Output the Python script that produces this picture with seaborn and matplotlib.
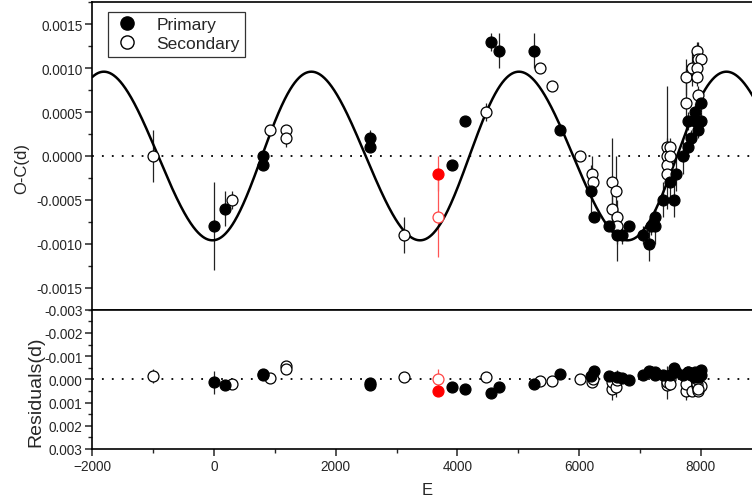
import numpy as np
import pandas as pd
import matplotlib
matplotlib.use("Agg")
import matplotlib.pyplot as plt
from matplotlib.ticker import MultipleLocator, FormatStrFormatter
from matplotlib.lines import Line2D
import seaborn as sns

# ---------------- data ----------------
prim_E = [0, 180, 800, 800, 2560, 2560, 3910, 4120, 4550, 4690, 5260, 5690,
          6195, 6245, 6490, 6630, 6700, 6820, 7055, 7140, 7180, 7250, 7250,
          7370, 7495, 7560, 7590, 7710, 7790, 7845, 7790, 7910, 7995, 7910,
          7995, 7960]
prim_OC = [-0.0008, -0.0006, 0.0, -0.0001, 0.0002, 0.0001, -0.0001, 0.0004,
           0.0013, 0.0012, 0.0012, 0.0003, -0.0004, -0.0007, -0.0008, -0.0009,
           -0.0009, -0.0008, -0.0009, -0.0010, -0.0008, -0.0008, -0.0007,
           -0.0005, -0.0003, -0.0005, -0.0002, 0.0, 0.0001, 0.0002, 0.0004,
           0.0005, 0.0006, 0.0004, 0.0004, 0.0003]
prim_err = [0.0005, 0.0002, 0.00003, 0.00003, 0.0001, 0.00003, 0.00003, 0.00003,
            0.0001, 0.0002, 0.0002, 0.00005, 0.0003, 0.00005, 0.00005, 0.0003,
            0.0001, 0.00003, 0.0001, 0.0002, 0.0001, 0.0002, 0.0001, 0.0002,
            0.0002, 0.0002, 0.0002, 0.0002, 0.0001, 0.0001, 0.0001, 0.0001,
            0.0001, 0.0001, 0.0001, 0.0001]
prim_res = [0.00013, 0.00023, -0.00023, -0.00017, 0.00017, 0.00025, 0.00032,
            0.00043, 0.00057, 0.00032, 0.0002, -0.00021, -0.00013, -0.00037,
            -0.00014, -0.0001, -0.00004, 0.00003, -0.00018, -0.00034, -0.0003,
            -0.0002, -0.0003, -0.0002, -0.0002, -0.00048, -0.0003, -0.0002,
            -0.0003, -0.0002, -0.0003, -0.0003, -0.0004, -0.0001, -0.0002,
            -0.0001]

sec_E = [-1000, 300, 920, 1185, 1185, 3130, 4475, 5360, 5550, 6010, 6215, 6235,
         6535, 6545, 6610, 6625, 6625, 7450, 7450, 7450, 7450, 7500, 7500,
         7750, 7750, 7860, 7930, 7960, 7995, 7945, 7945, 7950]
sec_OC = [0.0, -0.0005, 0.0003, 0.0003, 0.0002, -0.0009, 0.0005, 0.0010, 0.0008,
          0.0, -0.0002, -0.0003, -0.0003, -0.0006, -0.0004, -0.0007, -0.0008,
          0.0001, 0.0, -0.0001, -0.0002, 0.0001, 0.0, 0.0006, 0.0009, 0.0010,
          0.0012, 0.0011, 0.0011, 0.0010, 0.0009, 0.0007]
sec_err = [0.0003, 0.0001, 0.00003, 0.00003, 0.0001, 0.0002, 0.0001, 0.00003,
           0.00003, 0.00003, 0.0002, 0.0001, 0.0005, 0.0003, 0.0004, 0.0002,
           0.0002, 0.0007, 0.0002, 0.0001, 0.0001, 0.0001, 0.0001, 0.0004,
           0.0002, 0.0002, 0.0001, 0.0002, 0.0001, 0.0001, 0.0001, 0.0001]
sec_res = [-0.00015, 0.0002, -0.00006, -0.00058, -0.00043, -0.00011, -0.00011,
           0.00006, 0.00009, 0.0, 0.0001, 0.0, 0.0004, 0.0001, 0.00034, 0.0,
           0.00003, 0.00013, 0.00023, -0.00009, 0.0001, 0.0, 0.0002, 0.0005,
           0.0002, 0.0005, 0.0003, 0.0005, 0.0003, 0.0002, 0.0, 0.0004]

red_prim_E = [3677]
red_prim_OC = [-0.0002]
red_prim_err = [0.0002]
red_prim_res = [0.0005]
red_sec_E = [3677]
red_sec_OC = [-0.0007]
red_sec_err = [0.00045]
red_sec_res = [0.0]

# fitted cyclic model parameters
fit_amp = 0.00096
fit_period = 3410.0
fit_E0 = -65.0
fit_ecc = 0.0735

x_ticks = [-2000, 0, 2000, 4000, 6000, 8000]

# ---------------- style ----------------
sns.set_theme(style="ticks")
plt.rcParams['font.family'] = ['Liberation Sans', 'DejaVu Sans']
plt.rcParams['axes.linewidth'] = 1.2
plt.rcParams['xtick.direction'] = 'out'
plt.rcParams['ytick.direction'] = 'out'

W, H = 752, 502
fig = plt.figure(figsize=(W / 100, H / 100), dpi=100)
x_left = 92.3 / W
x_right = 761.7 / W
ax1 = fig.add_axes([x_left, 1 - 310.7 / H, x_right - x_left, (310.7 - 3.3) / H])
ax2 = fig.add_axes([x_left, 1 - 450 / H, x_right - x_left, (450 - 310.7) / H], sharex=ax1)

prim = pd.DataFrame(dict(E=prim_E, OC=prim_OC, err=prim_err, res=prim_res))
sec = pd.DataFrame(dict(E=sec_E, OC=sec_OC, err=sec_err, res=sec_res))
rp = pd.DataFrame(dict(E=red_prim_E, OC=red_prim_OC, err=red_prim_err, res=red_prim_res))
rs = pd.DataFrame(dict(E=red_sec_E, OC=red_sec_OC, err=red_sec_err, res=red_sec_res))

# model curve
Egrid = np.linspace(-2000, 9000, 1500)
M = 2 * np.pi * (Egrid - fit_E0) / fit_period
phi = M - fit_ecc * np.cos(M)
curve = pd.DataFrame(dict(E=Egrid, OC=-fit_amp * np.cos(phi)))

ms = 62
ebc = '#222222'

for ax, col in [(ax1, 'OC'), (ax2, 'res')]:
    ax.axhline(0, color='black', lw=1.3, ls=(0, (1, 4.5)), zorder=1)
    ax.errorbar(prim['E'], prim[col], yerr=prim['err'], fmt='none', ecolor=ebc, elinewidth=0.9, zorder=2)
    ax.errorbar(sec['E'], sec[col], yerr=sec['err'], fmt='none', ecolor=ebc, elinewidth=0.9, zorder=2)
    ax.errorbar(rp['E'], rp[col], yerr=rp['err'], fmt='none', ecolor='#ff5555', elinewidth=0.9, zorder=2)
    ax.errorbar(rs['E'], rs[col], yerr=rs['err'], fmt='none', ecolor='#ff5555', elinewidth=0.9, zorder=2)
    if ax is ax1:
        sns.lineplot(data=curve, x='E', y='OC', ax=ax, color='black', lw=1.8, zorder=3, legend=False)
    sns.scatterplot(data=sec, x='E', y=col, ax=ax, s=ms, marker='o', facecolor='white',
                    edgecolor='black', linewidth=0.9, zorder=4, legend=False)
    sns.scatterplot(data=prim, x='E', y=col, ax=ax, s=ms, marker='o', color='black',
                    edgecolor='black', linewidth=0.9, zorder=5, legend=False)
    sns.scatterplot(data=rs, x='E', y=col, ax=ax, s=ms, marker='o', facecolor='white',
                    edgecolor='#ff4444', linewidth=0.9, zorder=4, legend=False)
    sns.scatterplot(data=rp, x='E', y=col, ax=ax, s=ms, marker='o', color='#ff0000',
                    edgecolor='#ff0000', linewidth=0.9, zorder=5, legend=False)

# axes ranges / ticks
ax1.set_xlim(-2000, 9000)
ax1.set_ylim(-0.00175, 0.00175)
ax1.set_yticks([-0.0015, -0.0010, -0.0005, 0.0, 0.0005, 0.0010, 0.0015])
ax1.yaxis.set_minor_locator(MultipleLocator(0.00025))
ax1.yaxis.set_major_formatter(FormatStrFormatter('%.4f'))
ax1.tick_params(axis='x', which='both', bottom=False, labelbottom=False)
ax1.tick_params(axis='y', which='major', length=5, width=1.1, labelsize=9.8, pad=2)
ax1.tick_params(axis='y', which='minor', length=3, width=1.0)
ax1.set_xlabel('')
ax1.set_ylabel('O-C(d)', fontsize=12)
ax1.yaxis.set_label_coords(-0.094, 0.461)

ax2.set_ylim(0.003, -0.003)
ax2.set_yticks([-0.003, -0.002, -0.001, 0.0, 0.001, 0.002, 0.003])
ax2.yaxis.set_minor_locator(MultipleLocator(0.0005))
ax2.yaxis.set_major_formatter(FormatStrFormatter('%.3f'))
ax2.set_xticks(x_ticks)
ax2.xaxis.set_minor_locator(MultipleLocator(1000))
ax2.tick_params(axis='both', which='major', length=5, width=1.1, labelsize=9.8, pad=2)
ax2.tick_params(axis='both', which='minor', length=3, width=1.0)
ax2.set_ylabel('Residuals(d)', fontsize=14)
ax2.yaxis.set_label_coords(-0.072, 0.416)
ax2.set_xlabel('E', fontsize=12, labelpad=7)

for ax in (ax1, ax2):
    for sp in ax.spines.values():
        sp.set_visible(True)
        sp.set_linewidth(1.2)
        sp.set_color('black')

handles = [
    Line2D([], [], marker='o', ls='none', markersize=9.5, markerfacecolor='black', markeredgecolor='black'),
    Line2D([], [], marker='o', ls='none', markersize=9.5, markerfacecolor='white', markeredgecolor='black'),
]
leg = ax1.legend(handles, ['Primary', 'Secondary'], loc='upper left',
                 bbox_to_anchor=(0.023, 0.968), fontsize=12.5, frameon=True,
                 fancybox=False, edgecolor='black', borderpad=0.3,
                 handletextpad=0.9, labelspacing=0.22, handlelength=1.6,
                 borderaxespad=0)
leg.get_frame().set_linewidth(0.9)

fig.savefig('out.png', dpi=100)
